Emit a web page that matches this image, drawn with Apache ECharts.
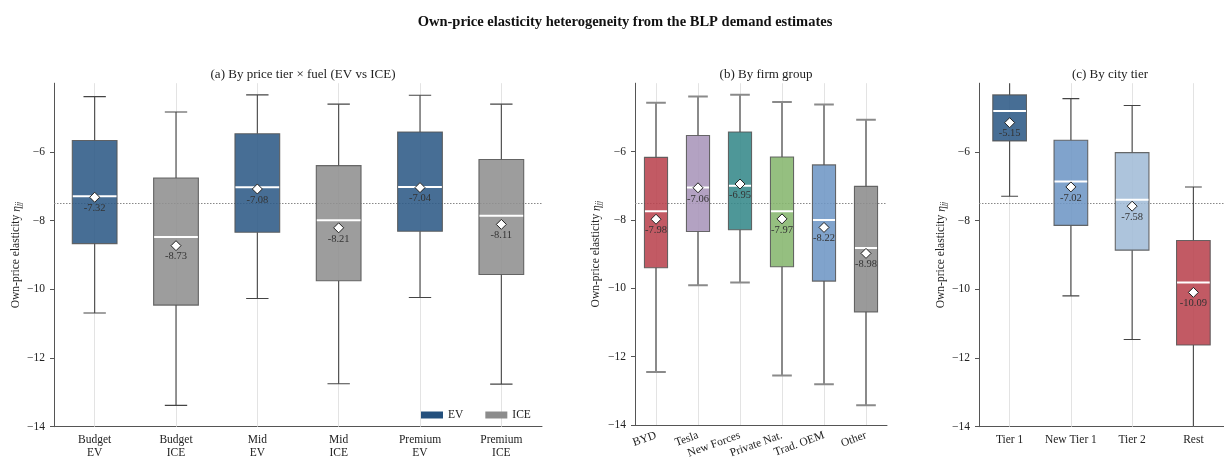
<!DOCTYPE html>
<html>
<head>
<meta charset="utf-8">
<script src="https://cdn.jsdelivr.net/npm/echarts@6/dist/echarts.min.js"></script>
<style>html,body{margin:0;padding:0;background:#fff}#c{width:1224px;height:461px}</style>
</head>
<body>
<div id="c"></div>
<script>
// ---------- data ----------
const catsA = ['Budget\nEV', 'Budget\nICE', 'Mid\nEV', 'Mid\nICE', 'Premium\nEV', 'Premium\nICE'];
const fuelA = ['EV', 'ICE', 'EV', 'ICE', 'EV', 'ICE'];
const whiskerLowA  = [-10.69, -13.38, -10.27, -12.75, -10.24, -12.76];
const q1A          = [-8.67, -10.46, -8.34, -9.75, -8.31, -9.57];
const medianA      = [-7.29, -8.48, -7.03, -7.99, -7.02, -7.86];
const q3A          = [-5.67, -6.76, -5.47, -6.40, -5.42, -6.22];
const whiskerHighA = [-4.39, -4.84, -4.34, -4.61, -4.35, -4.61];
const meanA        = [-7.32, -8.73, -7.08, -8.21, -7.04, -8.11];

const catsB = ['BYD', 'Tesla', 'New Forces', 'Private Nat.', 'Trad. OEM', 'Other'];
const whiskerLowB  = [-12.45, -9.91, -9.83, -12.55, -12.81, -13.42];
const q1B          = [-9.40, -8.34, -8.29, -9.37, -9.79, -10.69];
const medianB      = [-7.75, -7.05, -7.00, -7.75, -8.00, -8.82];
const q3B          = [-6.17, -5.53, -5.43, -6.16, -6.39, -7.02];
const whiskerHighB = [-4.57, -4.39, -4.34, -4.55, -4.62, -5.07];
const meanB        = [-7.98, -7.06, -6.95, -7.97, -8.22, -8.98];

const catsC = ['Tier 1', 'New Tier 1', 'Tier 2', 'Rest'];
const whiskerLowC  = [-7.29, -10.19, -11.46, -14.03];
const q1C          = [-5.68, -8.14, -8.86, -11.62];
const medianC      = [-4.81, -6.86, -7.39, -9.80];
const q3C          = [-4.34, -5.66, -6.02, -8.58];
const whiskerHighC = [-3.60, -4.45, -4.65, -7.02];
const meanC        = [-5.15, -7.02, -7.58, -10.09];

const refLine = -7.5;
const yTickValues = [-14, -12, -10, -8, -6];
const yRange = { min: -14, max: -4, interval: 2 };

// ---------- styles ----------
const FONT = '"Liberation Serif", "DejaVu Serif", serif';
const fuelColors = { EV: '#2e5a86', ICE: '#8f8f8f' };
const colorsA = fuelA.map(f => fuelColors[f]);
const colorsB = ['#b9434f', '#a895b9', '#35898a', '#86b66e', '#6e96c5', '#8c8c8c'];
const colorsC = ['#2e5a86', '#6e96c5', '#a2bcd7', '#b9434f'];

const gridTop = 83.2, gridH = 343.5;
const grids = [
  { left: 54, top: gridTop, width: 488, height: gridH },
  { left: 635, top: gridTop, width: 252, height: gridH },
  { left: 979, top: gridTop, width: 252, height: gridH }
];

function boxData(lo, q1, md, q3, hi) {
  return lo.map((v, i) => [i, lo[i], q1[i], md[i], q3[i], hi[i]]);
}
function meanData(m) { return m.map((v, i) => [i, v]); }

function makeRender(colors, capFrac, wColor, wWidth) {
  return function (params, api) {
    const i = api.value(0);
    const lo = api.value(1), q1 = api.value(2), md = api.value(3), q3 = api.value(4), hi = api.value(5);
    const band = api.size([1, 0])[0];
    const bw = band * 0.55, cw = bw * capFrac;
    const pLo = api.coord([i, lo]), pQ1 = api.coord([i, q1]), pMd = api.coord([i, md]),
          pQ3 = api.coord([i, q3]), pHi = api.coord([i, hi]);
    const x = pLo[0];
    const wStyle = { stroke: wColor, lineWidth: wWidth };
    return {
      type: 'group',
      children: [
        { type: 'line', shape: { x1: x, y1: pHi[1], x2: x, y2: pQ3[1] }, style: wStyle },
        { type: 'line', shape: { x1: x, y1: pQ1[1], x2: x, y2: pLo[1] }, style: wStyle },
        { type: 'line', shape: { x1: x - cw / 2, y1: pHi[1], x2: x + cw / 2, y2: pHi[1] }, style: wStyle },
        { type: 'line', shape: { x1: x - cw / 2, y1: pLo[1], x2: x + cw / 2, y2: pLo[1] }, style: wStyle },
        { type: 'rect', shape: { x: x - bw / 2, y: pQ3[1], width: bw, height: pQ1[1] - pQ3[1] },
          style: { fill: colors[params.dataIndex], opacity: 0.88, stroke: '#555', lineWidth: 1.1 } },
        { type: 'line', shape: { x1: x - bw / 2 + 0.5, y1: pMd[1], x2: x + bw / 2 - 0.5, y2: pMd[1] },
          style: { stroke: '#ffffff', lineWidth: 2 } }
      ]
    };
  };
}

function xAxisFor(idx, cats, extraLabel) {
  return {
    type: 'category', gridIndex: idx, data: cats, boundaryGap: true,
    axisLine: { lineStyle: { color: '#555', width: 1 } },
    axisTick: { alignWithLabel: true, length: 4, lineStyle: { color: '#555' } },
    axisLabel: Object.assign({ color: '#222', fontFamily: FONT, fontSize: 11.5, margin: 7, interval: 0, lineHeight: 13 }, extraLabel || {}),
    splitLine: { show: false }
  };
}
function yAxisFor(idx, gap) {
  return {
    type: 'value', gridIndex: idx, min: yRange.min, max: yRange.max, interval: yRange.interval,
    name: 'Own-price elasticity {e|η}{s|jj}',
    nameLocation: 'middle', nameGap: gap, nameRotate: 90,
    nameTextStyle: {
      color: '#222', fontFamily: FONT, fontSize: 11.5,
      rich: {
        e: { fontFamily: FONT, fontSize: 11.5, fontStyle: 'italic', color: '#222', verticalAlign: 'bottom', lineHeight: 14 },
        s: { fontFamily: FONT, fontSize: 8, fontStyle: 'italic', color: '#222', verticalAlign: 'bottom', lineHeight: 10 }
      }
    },
    axisLine: { show: true, lineStyle: { color: '#555', width: 1 } },
    axisTick: { show: true, length: 4, lineStyle: { color: '#555' }, customValues: yTickValues },
    axisLabel: { color: '#222', fontFamily: FONT, fontSize: 11.5, margin: 9, customValues: yTickValues,
      formatter: v => String(v).replace('-', '\u2212') },
    splitLine: { show: false }
  };
}

function panelSeries(idx, nCats, colors, lo, q1, md, q3, hi, mean, capFrac, wColor, wWidth) {
  const grid = [];
  for (let i = 0; i < nCats; i++) grid.push({ xAxis: i });
  return [
    { // gridlines + reference line
      type: 'scatter', xAxisIndex: idx, yAxisIndex: idx, data: [], z: 1, silent: true,
      markLine: {
        z: 1, silent: true, symbol: 'none', animation: false, label: { show: false },
        data: grid.map(g => Object.assign({ lineStyle: { color: '#e3e3e3', width: 1, type: 'solid' } }, g))
          .concat([{ yAxis: refLine, lineStyle: { color: '#888', width: 1, type: [1.5, 1.5] } }])
      }
    },
    {
      type: 'custom', xAxisIndex: idx, yAxisIndex: idx, z: 3, clip: true,
      renderItem: makeRender(colors, capFrac, wColor, wWidth),
      encode: { x: 0, y: [1, 2, 3, 4, 5] },
      data: boxData(lo, q1, md, q3, hi)
    },
    {
      type: 'scatter', xAxisIndex: idx, yAxisIndex: idx, z: 5,
      symbol: 'diamond', symbolSize: [10, 10],
      itemStyle: { color: '#ffffff', borderColor: '#222', borderWidth: 1, opacity: 1 },
      label: { show: true, position: 'bottom', distance: 0, color: '#333', fontFamily: FONT, fontSize: 10.5,
        formatter: p => p.value[1].toFixed(2) },
      data: meanData(mean)
    }
  ];
}

const chart = echarts.init(document.getElementById('c'), null, { renderer: 'canvas' });
const option = {
  animation: false,
  backgroundColor: '#ffffff',
  title: [
    { text: 'Own-price elasticity heterogeneity from the BLP demand estimates', left: 620, top: 10, textAlign: 'center',
      textStyle: { fontFamily: FONT, fontSize: 14.5, fontWeight: 'bold', color: '#111' } },
    { text: '(a) By price tier \u00d7 fuel (EV vs ICE)', left: 298, top: 63, textAlign: 'center',
      textStyle: { fontFamily: FONT, fontSize: 13, fontWeight: 'normal', color: '#222' } },
    { text: '(b) By firm group', left: 761, top: 63, textAlign: 'center',
      textStyle: { fontFamily: FONT, fontSize: 13, fontWeight: 'normal', color: '#222' } },
    { text: '(c) By city tier', left: 1105, top: 63, textAlign: 'center',
      textStyle: { fontFamily: FONT, fontSize: 13, fontWeight: 'normal', color: '#222' } }
  ],
  legend: {
    data: ['EV', 'ICE'], left: 416, top: 404, icon: 'rect', itemWidth: 22, itemHeight: 7, itemGap: 22,
    textStyle: { fontFamily: FONT, fontSize: 11.5, color: '#222' }
  },
  grid: grids,
  xAxis: [
    xAxisFor(0, catsA),
    xAxisFor(1, catsB, { rotate: 20, margin: 10 }),
    xAxisFor(2, catsC)
  ],
  yAxis: [yAxisFor(0, 30), yAxisFor(1, 32), yAxisFor(2, 30)],
  series: [].concat(
    panelSeries(0, catsA.length, colorsA, whiskerLowA, q1A, medianA, q3A, whiskerHighA, meanA, 0.5, '#444', 1.1),
    panelSeries(1, catsB.length, colorsB, whiskerLowB, q1B, medianB, q3B, whiskerHighB, meanB, 0.85, '#8a8a8a', 2),
    panelSeries(2, catsC.length, colorsC, whiskerLowC, q1C, medianC, q3C, whiskerHighC, meanC, 0.5, '#444', 1.1),
    [
      { name: 'EV', type: 'bar', xAxisIndex: 0, yAxisIndex: 0, data: [], itemStyle: { color: '#24507d' } },
      { name: 'ICE', type: 'bar', xAxisIndex: 0, yAxisIndex: 0, data: [], itemStyle: { color: '#8c8c8c' } }
    ]
  )
};
chart.setOption(option);
</script>
</body>
</html>
